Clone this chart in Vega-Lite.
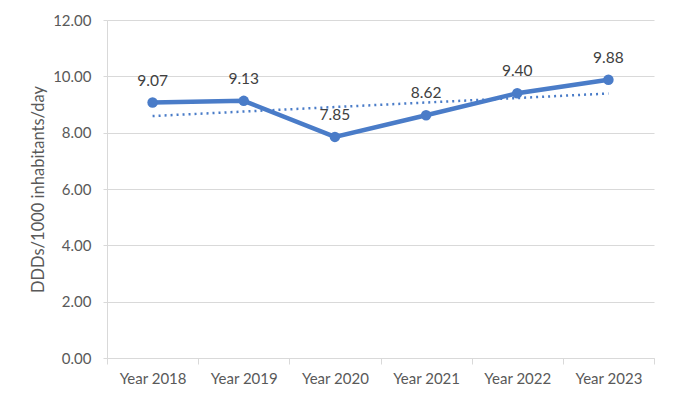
{
  "$schema": "https://vega.github.io/schema/vega-lite/v6.json",
  "autosize": "none",
  "width": 547,
  "height": 338,
  "padding": {"left": 107, "top": 20, "right": 23, "bottom": 45},
  "background": "white",
  "config": {
    "view": {"stroke": null},
    "font": "Lato"
  },
  "data": {
    "values": [
      {"year": "Year 2018", "value": 9.07, "trend": 8.59},
      {"year": "Year 2019", "value": 9.13, "trend": 8.75},
      {"year": "Year 2020", "value": 7.85, "trend": 8.91},
      {"year": "Year 2021", "value": 8.62, "trend": 9.07},
      {"year": "Year 2022", "value": 9.40, "trend": 9.23},
      {"year": "Year 2023", "value": 9.88, "trend": 9.39}
    ]
  },
  "encoding": {
    "x": {
      "field": "year",
      "type": "nominal",
      "sort": null,
      "scale": {"type": "band", "paddingInner": 0, "paddingOuter": 0},
      "axis": {
        "title": null,
        "labelAngle": 0,
        "labelFontSize": 15,
        "labelColor": "#595959",
        "labelPadding": 7,
        "domainColor": "#D9D9D9",
        "tickColor": "#D9D9D9",
        "tickBand": "extent",
        "tickSize": 6,
        "grid": false
      }
    }
  },
  "layer": [
    {
      "mark": {"type": "line", "color": "#4A7CC8", "strokeWidth": 2.5, "strokeDash": [2, 4]},
      "encoding": {
        "y": {"field": "trend", "type": "quantitative"}
      }
    },
    {
      "mark": {"type": "line", "color": "#4A7CC8", "strokeWidth": 4.5, "point": {"filled": true, "size": 110, "color": "#4A7CC8"}},
      "encoding": {
        "y": {
          "field": "value",
          "type": "quantitative",
          "scale": {"domain": [0, 12]},
          "axis": {
            "title": "DDDs/1000 inhabitants/day",
            "titleFontSize": 16.5,
            "titleFontWeight": "normal",
            "titleColor": "#595959",
            "titlePadding": 6,
            "values": [0, 2, 4, 6, 8, 10, 12],
            "format": ".2f",
            "labelFontSize": 15,
            "labelColor": "#595959",
            "labelPadding": 12,
            "domainColor": "#D9D9D9",
            "tickColor": "#D9D9D9",
            "tickSize": 4,
            "gridColor": "#D9D9D9",
            "gridWidth": 1.2
          }
        }
      }
    },
    {
      "mark": {"type": "text", "dy": -22, "fontSize": 15.5, "color": "#404040"},
      "encoding": {
        "y": {"field": "value", "type": "quantitative"},
        "text": {"field": "value", "type": "quantitative", "format": ".2f"}
      }
    }
  ]
}
